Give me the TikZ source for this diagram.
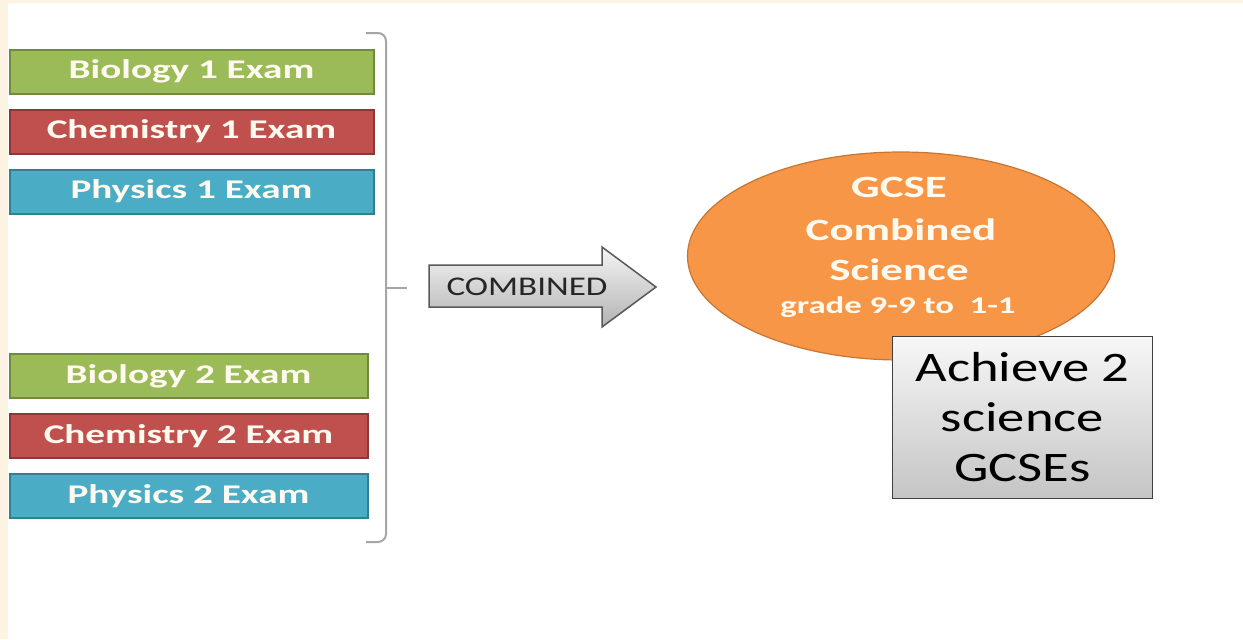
\documentclass[tikz,border=0pt]{standalone}
\usepackage{fontspec}
\setmainfont{Carlito}
\newfontfamily\widefont[FakeStretch=1.45]{Carlito}
\newfontfamily\plainfont[FakeStretch=1.3]{Carlito}
\usetikzlibrary{positioning,shapes.geometric}
\definecolor{cream}{RGB}{253,243,226}
\definecolor{biofill}{RGB}{155,187,89}
\definecolor{bioline}{RGB}{113,137,63}
\definecolor{chemfill}{RGB}{192,80,77}
\definecolor{chemline}{RGB}{140,56,54}
\definecolor{physfill}{RGB}{75,172,198}
\definecolor{physline}{RGB}{49,125,146}
\definecolor{ovalfill}{RGB}{247,150,70}
\definecolor{ovalline}{RGB}{197,118,52}
\definecolor{softwhite}{RGB}{255,250,240}
\tikzset{
  exam/.style={draw, line width=1pt, minimum width=182pt, minimum height=22pt,
    inner sep=0pt, text=softwhite, font=\widefont\bfseries\fontsize{13.5}{16}\selectfont},
  bracket/.style={draw=gray!70, line width=1pt},
  oval/.style={ellipse, draw=ovalline, fill=ovalfill, line width=0.6pt, inner sep=0pt,
    minimum width=213.5pt, minimum height=104pt},
  ovaltext/.style={anchor=base, inner sep=0pt, text=softwhite,
    font=\widefont\bfseries\fontsize{15.5}{18}\selectfont},
  resultbox/.style={draw=black!75, line width=0.8pt, top color=black!3, bottom color=black!23,
    minimum width=130pt, minimum height=81pt, inner sep=0pt, align=center,
    font=\plainfont\fontsize{21}{25}\selectfont}
}
\begin{document}
\begin{tikzpicture}[x=0.5pt, y=-0.5pt]
\useasboundingbox (0,0) rectangle (1243,639);
%background strips
\fill[white] (0,0) rectangle (1243,639);
\fill[cream] (0,0) rectangle (8,639);
\fill[cream] (0,0) rectangle (1243,3);
%exams
\node[exam, fill=biofill, draw=bioline] (bioA) at (191.5,71.5) {Biology 1 Exam};
\node[exam, fill=chemfill, draw=chemline, below=7pt of bioA] (chemA) {Chemistry 1 Exam};
\node[exam, fill=physfill, draw=physline, below=7pt of chemA] (physA) {Physics 1 Exam};
\node[exam, minimum width=179pt, fill=biofill, draw=bioline] (bioB) at (188.5,376) {Biology 2 Exam};
\node[exam, minimum width=179pt, fill=chemfill, draw=chemline, below=7pt of bioB] (chemB) {Chemistry 2 Exam};
\node[exam, minimum width=179pt, fill=physfill, draw=physline, below=7pt of chemB] (physB) {Physics 2 Exam};
%bracket
\coordinate (brtop) at (366,33);
\coordinate (brbot) at (366,542);
\coordinate (brmid) at (386,288);
\coordinate (brtip) at (407,288);
\draw[bracket, rounded corners=4pt] (brtop) -- (386,33) -- (386,542) -- (brbot);
\draw[bracket] (brmid) -- (brtip);
%arrow
\filldraw[draw=black!65, line width=0.75pt, top color=black!4, bottom color=black!30]
  (429,265) -- (602,265) -- (602,247) -- (656,287) -- (602,327) -- (602,307) -- (429,307) -- cycle;
\node[font=\plainfont\fontsize{13.5}{16}\selectfont, text=black!85] (comb) at (527,287) {COMBINED};
%result
\node[oval] (gcse) at (901,256) {};
\node[ovaltext] (lineA) at (899,197) {GCSE};
\node[ovaltext] (lineB) at (901,240) {Combined};
\node[ovaltext] (lineC) at (899,280) {Science};
\node[ovaltext, font=\widefont\bfseries\fontsize{12}{14}\selectfont] (lineD) at (898,313) {grade 9-9 to\ \ 1-1};
\node[resultbox] (achieve) at (1022.5,417.5) {Achieve 2\\science\\GCSEs};
\end{tikzpicture}
\end{document}
